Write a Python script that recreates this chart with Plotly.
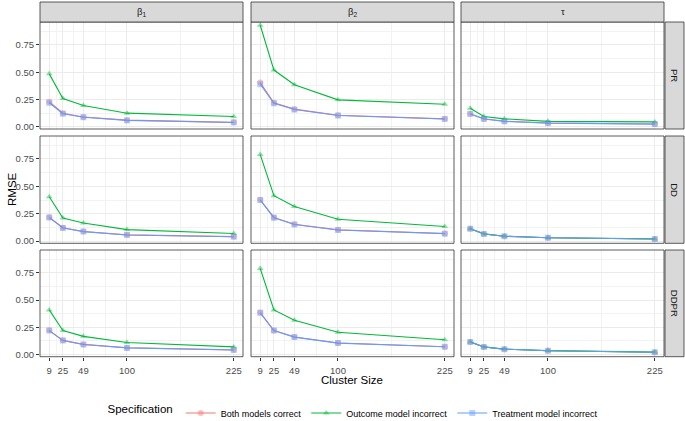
import plotly.graph_objects as go

W, H = 685, 421

cluster_sizes = [9, 25, 49, 100, 225]
size_minor = [17, 37, 74.5, 162.5]

col_labels = ["β<sub>1</sub>", "β<sub>2</sub>", "τ"]
row_labels = ["PR", "DD", "DDPR"]
series_names = ["Both models correct", "Outcome model incorrect", "Treatment model incorrect"]

# RMSE: one list per estimator / parameter / specification
pr_beta1_both = [0.23, 0.125, 0.09, 0.061, 0.041]
pr_beta1_outcome = [0.485, 0.26, 0.195, 0.125, 0.095]
pr_beta1_treat = [0.22, 0.12, 0.088, 0.059, 0.04]
pr_beta2_both = [0.405, 0.22, 0.162, 0.106, 0.073]
pr_beta2_outcome = [0.93, 0.52, 0.385, 0.247, 0.207]
pr_beta2_treat = [0.39, 0.215, 0.158, 0.103, 0.072]
pr_tau_both = [0.12, 0.074, 0.051, 0.035, 0.026]
pr_tau_outcome = [0.17, 0.095, 0.073, 0.05, 0.045]
pr_tau_treat = [0.118, 0.072, 0.05, 0.034, 0.025]

dd_beta1_both = [0.218, 0.122, 0.088, 0.057, 0.041]
dd_beta1_outcome = [0.405, 0.21, 0.165, 0.105, 0.07]
dd_beta1_treat = [0.215, 0.12, 0.087, 0.056, 0.04]
dd_beta2_both = [0.378, 0.216, 0.154, 0.103, 0.069]
dd_beta2_outcome = [0.79, 0.415, 0.316, 0.2, 0.133]
dd_beta2_treat = [0.375, 0.214, 0.152, 0.102, 0.068]
dd_tau_both = [0.112, 0.066, 0.044, 0.031, 0.019]
dd_tau_outcome = [0.113, 0.066, 0.045, 0.031, 0.02]
dd_tau_treat = [0.112, 0.065, 0.044, 0.031, 0.019]

ddpr_beta1_both = [0.222, 0.13, 0.093, 0.062, 0.043]
ddpr_beta1_outcome = [0.41, 0.22, 0.167, 0.11, 0.07]
ddpr_beta1_treat = [0.22, 0.128, 0.092, 0.061, 0.042]
ddpr_beta2_both = [0.385, 0.221, 0.161, 0.106, 0.072]
ddpr_beta2_outcome = [0.79, 0.41, 0.315, 0.204, 0.136]
ddpr_beta2_treat = [0.383, 0.22, 0.16, 0.105, 0.071]
ddpr_tau_both = [0.115, 0.07, 0.049, 0.035, 0.021]
ddpr_tau_outcome = [0.116, 0.07, 0.05, 0.036, 0.022]
ddpr_tau_treat = [0.115, 0.069, 0.049, 0.035, 0.021]

panels = [
    [(pr_beta1_both, pr_beta1_outcome, pr_beta1_treat),
     (pr_beta2_both, pr_beta2_outcome, pr_beta2_treat),
     (pr_tau_both, pr_tau_outcome, pr_tau_treat)],
    [(dd_beta1_both, dd_beta1_outcome, dd_beta1_treat),
     (dd_beta2_both, dd_beta2_outcome, dd_beta2_treat),
     (dd_tau_both, dd_tau_outcome, dd_tau_treat)],
    [(ddpr_beta1_both, ddpr_beta1_outcome, ddpr_beta1_treat),
     (ddpr_beta2_both, ddpr_beta2_outcome, ddpr_beta2_treat),
     (ddpr_tau_both, ddpr_tau_outcome, ddpr_tau_treat)],
]

colors = ["#F8766D", "#00BA38", "#619CFF"]
symbols = ["circle", "triangle-up", "square"]

# panel boxes in pixels (left, right) and (top, bottom)
col_px = [(40, 243), (251, 454), (461, 664)]
row_px = [(22, 129), (136, 243.3), (250, 356.7)]
strip_top = (2, 22)
strip_right = (665, 684)

FONT = "Liberation Sans, Arial, sans-serif"
BORDER = "#333333"

def px_x(v):
    return v / W

def px_y(v):
    return 1 - v / H

fig = go.Figure()
shapes = []
annotations = []

for r in range(3):
    for c in range(3):
        n = r * 3 + c + 1
        xa = "x" if n == 1 else f"x{n}"
        ya = "y" if n == 1 else f"y{n}"
        for s in range(3):
            fig.add_trace(go.Scatter(
                x=cluster_sizes, y=panels[r][c][s],
                mode="lines+markers", name=series_names[s],
                legendgroup=series_names[s], showlegend=(n == 1),
                line=dict(color=colors[s], width=1.1),
                marker=dict(symbol=symbols[s], size=6, color=colors[s], opacity=0.45),
                xaxis=xa, yaxis=ya,
            ))
        xkey = "xaxis" if n == 1 else f"xaxis{n}"
        ykey = "yaxis" if n == 1 else f"yaxis{n}"
        x0, x1 = col_px[c]
        y0, y1 = row_px[r]
        fig.layout[xkey] = dict(
            domain=[px_x(x0), px_x(x1)], anchor=ya, range=[-1.8, 235.8],
            tickvals=cluster_sizes, showticklabels=(r == 2),
            ticks="outside" if r == 2 else "", ticklen=3, tickcolor=BORDER,
            ticklabelstandoff=2,
            tickfont=dict(size=9.5, color="#4D4D4D", family=FONT),
            showgrid=True, gridcolor="#EBEBEB", gridwidth=1,
            minor=dict(tickvals=size_minor, showgrid=True, gridcolor="#F2F2F2", gridwidth=0.6),
            zeroline=False, showline=False,
        )
        fig.layout[ykey] = dict(
            domain=[px_y(y1), px_y(y0)], anchor=xa, range=[-0.02, 0.96],
            tickvals=[0, 0.25, 0.5, 0.75], ticktext=["0.00", "0.25", "0.50", "0.75"],
            showticklabels=(c == 0), ticks="outside" if c == 0 else "",
            ticklen=3, tickcolor=BORDER,
            tickfont=dict(size=9.5, color="#4D4D4D", family=FONT),
            showgrid=True, gridcolor="#EBEBEB", gridwidth=1,
            minor=dict(tickvals=[0.125, 0.375, 0.625, 0.875], showgrid=True,
                       gridcolor="#F2F2F2", gridwidth=0.6),
            zeroline=False, showline=False,
        )
        shapes.append(dict(type="rect", xref="paper", yref="paper",
                           x0=px_x(x0), x1=px_x(x1), y0=px_y(y1), y1=px_y(y0),
                           line=dict(color=BORDER, width=0.8), fillcolor="rgba(0,0,0,0)",
                           layer="above"))

# column strips
for c in range(3):
    x0, x1 = col_px[c]
    shapes.append(dict(type="rect", xref="paper", yref="paper",
                       x0=px_x(x0), x1=px_x(x1), y0=px_y(strip_top[1]), y1=px_y(strip_top[0]),
                       line=dict(color=BORDER, width=0.8), fillcolor="#D9D9D9"))
    annotations.append(dict(text=col_labels[c], xref="paper", yref="paper",
                            x=px_x((x0 + x1) / 2), y=px_y(sum(strip_top) / 2),
                            xanchor="center", yanchor="middle", showarrow=False,
                            font=dict(size=9.5, color="#1A1A1A", family=FONT)))

# row strips
for r in range(3):
    y0, y1 = row_px[r]
    shapes.append(dict(type="rect", xref="paper", yref="paper",
                       x0=px_x(strip_right[0]), x1=px_x(strip_right[1]),
                       y0=px_y(y1), y1=px_y(y0),
                       line=dict(color=BORDER, width=0.8), fillcolor="#D9D9D9"))
    annotations.append(dict(text=row_labels[r], xref="paper", yref="paper",
                            x=px_x(sum(strip_right) / 2), y=px_y((y0 + y1) / 2),
                            xanchor="center", yanchor="middle",
                            textangle=90, showarrow=False,
                            font=dict(size=9.5, color="#1A1A1A", family=FONT)))

annotations.append(dict(text="RMSE", xref="paper", yref="paper", x=px_x(12), y=px_y(189),
                        xanchor="center", yanchor="middle",
                        textangle=-90, showarrow=False,
                        font=dict(size=11.5, color="black", family=FONT)))
annotations.append(dict(text="Cluster Size", xref="paper", yref="paper", x=px_x(352), y=px_y(380),
                        xanchor="center", yanchor="middle",
                        showarrow=False, font=dict(size=11.5, color="black", family=FONT)))

fig.update_layout(
    width=W, height=H,
    margin=dict(l=0, r=0, t=0, b=0, autoexpand=False),
    paper_bgcolor="white", plot_bgcolor="white",
    font=dict(family=FONT),
    shapes=shapes, annotations=annotations,
    legend=dict(
        orientation="h", x=px_x(354), xanchor="center", y=px_y(413), yanchor="middle",
        title=dict(text="Specification", font=dict(size=11.5, color="black", family=FONT)),
        font=dict(size=9, color="black", family=FONT),
        itemwidth=30, tracegroupgap=0, bgcolor="rgba(0,0,0,0)",
    ),
)

fig.write_html("out.html", config={"displayModeBar": False},
               post_script="document.body.style.margin='0';")
